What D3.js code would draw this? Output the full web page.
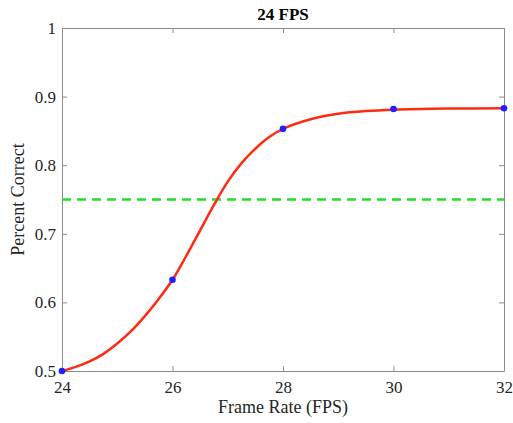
<!DOCTYPE html>
<meta charset="utf-8">
<title>24 FPS</title>
<script src="https://cdn.jsdelivr.net/npm/d3@7"></script>
<style>
  body { margin: 0; background: #fff; }
  svg text { font-family: "Liberation Serif", "DejaVu Serif", serif; }
</style>
<div id="chart"></div>
<script>
  // measured points
  var fpsValues = [24, 26, 28, 30, 32];
  var correctValues = [0.5, 0.633, 0.853, 0.882, 0.883];

  // fitted curve
  var fitX = [24, 24.25, 24.5, 24.75, 25, 25.25, 25.5, 25.75, 26, 26.25, 26.5, 26.75, 27, 27.25, 27.5, 27.75, 28, 28.5, 29, 29.5, 30, 31, 32];
  var fitY = [0.5, 0.506, 0.514, 0.525, 0.54, 0.558, 0.58, 0.605, 0.633, 0.668, 0.705, 0.742, 0.776, 0.803, 0.824, 0.841, 0.853, 0.867, 0.875, 0.879, 0.881, 0.8825, 0.883];

  var threshold = 0.75;
  var xTicks = [24, 26, 28, 30, 32];
  var yTicks = [0.5, 0.6, 0.7, 0.8, 0.9, 1];

  var margin = { top: 28, right: 9, bottom: 52, left: 62 },
    width = 513 - margin.left - margin.right,
    height = 423 - margin.top - margin.bottom;

  var svg = d3.select("#chart").append("svg")
    .attr("width", 513)
    .attr("height", 423);

  var g = svg.append("g")
    .attr("transform", "translate(" + margin.left + "," + margin.top + ")");

  var x = d3.scaleLinear().domain([24, 32]).range([0, width]);
  var y = d3.scaleLinear().domain([0.5, 1]).range([height, 0]);

  var fmt = function (d) { return String(d); };

  // axes with inward ticks, box on all sides
  var axisColor = "#8c8c8c";
  function styleAxis(sel) {
    sel.attr("font-family", "Liberation Serif, serif").attr("font-size", 17);
    sel.select(".domain").attr("stroke", axisColor);
    sel.selectAll(".tick line").attr("stroke", axisColor);
    sel.selectAll(".tick text").attr("fill", "#262626");
  }

  g.append("g")
    .attr("transform", "translate(0," + height + ")")
    .call(d3.axisBottom(x).tickValues(xTicks).tickSizeInner(-5).tickSizeOuter(0).tickPadding(10).tickFormat(fmt))
    .call(styleAxis);
  g.append("g")
    .call(d3.axisLeft(y).tickValues(yTicks).tickSizeInner(-5).tickSizeOuter(0).tickPadding(6).tickFormat(fmt))
    .call(styleAxis);
  g.append("g")
    .call(d3.axisTop(x).tickValues(xTicks).tickSizeInner(-5).tickSizeOuter(0).tickFormat(""))
    .call(styleAxis);
  g.append("g")
    .attr("transform", "translate(" + width + ",0)")
    .call(d3.axisRight(y).tickValues(yTicks).tickSizeInner(-5).tickSizeOuter(0).tickFormat(""))
    .call(styleAxis);

  // threshold
  g.append("line")
    .attr("x1", x(24)).attr("x2", x(32))
    .attr("y1", y(threshold)).attr("y2", y(threshold))
    .attr("stroke", "#22e022")
    .attr("stroke-width", 2.5)
    .attr("stroke-dasharray", "9,6");

  // fit curve
  var line = d3.line()
    .x(function (d, i) { return x(fitX[i]); })
    .y(function (d) { return y(d); })
    .curve(d3.curveCatmullRom);

  g.append("path")
    .datum(fitY)
    .attr("fill", "none")
    .attr("stroke", "#ff2a14")
    .attr("stroke-width", 2.5)
    .attr("d", line);

  g.selectAll("circle")
    .data(correctValues)
    .enter().append("circle")
    .attr("cx", function (d, i) { return x(fpsValues[i]); })
    .attr("cy", function (d) { return y(d); })
    .attr("r", 3.3)
    .attr("fill", "#1f1fff");

  // labels
  svg.append("text")
    .attr("x", margin.left + width / 2)
    .attr("y", 20)
    .attr("text-anchor", "middle")
    .attr("font-size", 17)
    .attr("font-weight", "bold")
    .attr("fill", "#000")
    .text("24 FPS");

  svg.append("text")
    .attr("x", margin.left + width / 2)
    .attr("y", 413)
    .attr("text-anchor", "middle")
    .attr("font-size", 18)
    .attr("fill", "#262626")
    .text("Frame Rate (FPS)");

  svg.append("text")
    .attr("transform", "translate(24," + (margin.top + height / 2) + ") rotate(-90)")
    .attr("text-anchor", "middle")
    .attr("font-size", 18)
    .attr("fill", "#262626")
    .text("Percent Correct");
</script>
